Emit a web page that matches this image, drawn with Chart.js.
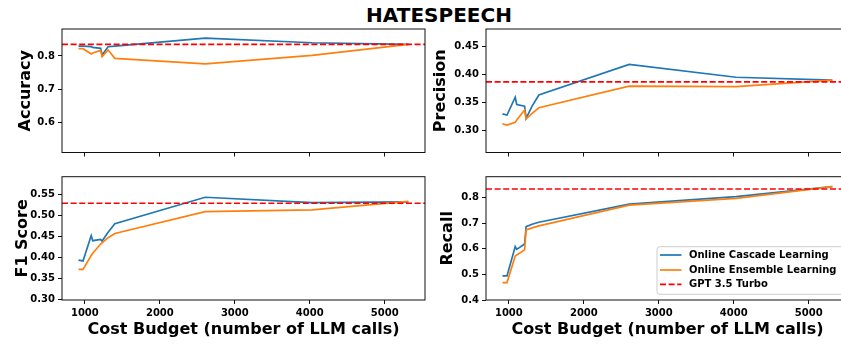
<!DOCTYPE html>
<html><head><meta charset="utf-8">
<script src="https://cdn.jsdelivr.net/npm/chart.js@4.4.0/dist/chart.umd.min.js"></script>
<style>
html,body{margin:0;padding:0;background:#fff;overflow:hidden;}
#wrap{position:relative;width:880px;height:344px;overflow:hidden;}
canvas{position:absolute;}
#title{position:absolute;left:0;width:878px;top:5px;line-height:20px;text-align:center;font-family:"DejaVu Sans";font-weight:bold;font-size:20px;color:#000;}
</style></head><body>
<div id="wrap">
<div id="title">HATESPEECH</div>
<canvas id="cAcc" width="440" height="165" style="left:0;top:0"></canvas>
<canvas id="cPrec" width="440" height="165" style="left:425px;top:0"></canvas>
<canvas id="cF1" width="440" height="179" style="left:0;top:165px"></canvas>
<canvas id="cRec" width="440" height="179" style="left:425px;top:165px"></canvas>
</div>
<script>
// ---- data ----
const budgets = [915, 975, 1085, 1105, 1210, 1230, 1310, 1400, 2605, 4030, 5315];
const seriesNames = ['Online Cascade Learning', 'Online Ensemble Learning', 'GPT 3.5 Turbo'];

const accCascade  = [0.830, 0.830, 0.828, 0.826, 0.823, 0.803, 0.828, 0.830, 0.854, 0.840, 0.835];
const accEnsemble = [0.822, 0.822, 0.806, 0.809, 0.817, 0.798, 0.818, 0.793, 0.776, 0.802, 0.835];
const accGpt = 0.835;

const precCascade  = [0.329, 0.327, 0.359, 0.346, 0.343, 0.321, 0.343, 0.363, 0.418, 0.395, 0.390];
const precEnsemble = [0.311, 0.309, 0.314, 0.318, 0.336, 0.320, 0.330, 0.340, 0.379, 0.378, 0.390];
const precGpt = 0.3867;

const f1Cascade  = [0.394, 0.392, 0.452, 0.440, 0.443, 0.439, 0.460, 0.480, 0.543, 0.530, 0.532];
const f1Ensemble = [0.372, 0.372, 0.405, 0.410, 0.432, 0.435, 0.447, 0.457, 0.509, 0.513, 0.533];
const f1Gpt = 0.5287;

const recCascade  = [0.494, 0.494, 0.609, 0.598, 0.619, 0.687, 0.696, 0.704, 0.775, 0.804, 0.843];
const recEnsemble = [0.468, 0.468, 0.572, 0.576, 0.596, 0.674, 0.682, 0.690, 0.771, 0.797, 0.843];
const recGpt = 0.834;

const xTicks = ['1000', '2000', '3000', '4000', '5000'];
const accTicks = ['0.6', '0.7', '0.8'];
const precTicks = ['0.30', '0.35', '0.40', '0.45'];
const f1Ticks = ['0.30', '0.35', '0.40', '0.45', '0.50', '0.55'];
const recTicks = ['0.4', '0.5', '0.6', '0.7', '0.8'];

const xRange = [695, 5537];
const accRange = [0.509, 0.8814];
const precRange = [0.2595, 0.4819];
const f1Range = [0.2993, 0.5917];
const recRange = [0.4, 0.882];

const xTitle = 'Cost Budget (number of LLM calls)';

// ---- styling ----
Chart.defaults.font.family = '"DejaVu Sans"';
Chart.defaults.color = '#000';
const BLUE = '#1f77b4', ORANGE = '#ff7f0e', RED = '#ff0000';
const DASH = [6, 2.6];
const LW = 1.7;

const framePlugin = {
  id: 'frame',
  afterDatasetsDraw(chart) {
    const {ctx, chartArea: a} = chart;
    ctx.save();
    ctx.strokeStyle = '#111';
    ctx.lineWidth = 1;
    ctx.strokeRect(a.left, a.top, a.right - a.left, a.bottom - a.top);
    ctx.restore();
  }
};

const boxLegend = {
  id: 'boxLegend',
  afterDraw(chart) {
    const {ctx, chartArea: a} = chart;
    const w = 187, h = 47.6;
    const x0 = a.right - 5 - w, y0 = a.bottom - 5.7 - h;
    ctx.save();
    const r = 3;
    ctx.beginPath();
    ctx.moveTo(x0 + r, y0);
    ctx.lineTo(x0 + w - r, y0); ctx.quadraticCurveTo(x0 + w, y0, x0 + w, y0 + r);
    ctx.lineTo(x0 + w, y0 + h - r); ctx.quadraticCurveTo(x0 + w, y0 + h, x0 + w - r, y0 + h);
    ctx.lineTo(x0 + r, y0 + h); ctx.quadraticCurveTo(x0, y0 + h, x0, y0 + h - r);
    ctx.lineTo(x0, y0 + r); ctx.quadraticCurveTo(x0, y0, x0 + r, y0);
    ctx.closePath();
    ctx.fillStyle = 'rgba(255,255,255,0.8)';
    ctx.fill();
    ctx.strokeStyle = '#cccccc';
    ctx.lineWidth = 1;
    ctx.stroke();
    const rows = [8.3, 23.3, 37.6];
    chart.data.datasets.forEach((ds, i) => {
      const yy = y0 + rows[i];
      ctx.beginPath();
      ctx.setLineDash(ds.borderDash || []);
      ctx.strokeStyle = ds.borderColor;
      ctx.lineWidth = LW;
      ctx.moveTo(x0 + 3, yy); ctx.lineTo(x0 + 24.5, yy);
      ctx.stroke();
      ctx.setLineDash([]);
      ctx.fillStyle = '#000';
      ctx.font = 'bold 10px "DejaVu Sans"';
      ctx.textBaseline = 'middle';
      ctx.textAlign = 'left';
      ctx.fillText(ds.label, x0 + 32, yy);
    });
    ctx.restore();
  }
};

function pts(arr) { return budgets.map((x, i) => ({x: x, y: arr[i]})); }

function makeChart(id, o) {
  const datasets = [
    {label: seriesNames[0], data: pts(o.cascade), borderColor: BLUE, borderWidth: LW, pointRadius: 0, order: 3},
    {label: seriesNames[1], data: pts(o.ensemble), borderColor: ORANGE, borderWidth: LW, pointRadius: 0, order: 2},
    {label: seriesNames[2], data: [{x: xRange[0], y: o.gpt}, {x: xRange[1], y: o.gpt}], borderColor: RED, borderWidth: LW, borderDash: DASH, pointRadius: 0, order: 1}
  ];
  const plugins = [framePlugin];
  if (o.legend) plugins.push(boxLegend);
  return new Chart(document.getElementById(id), {
    type: 'line',
    data: {datasets},
    plugins,
    options: {
      responsive: false,
      animation: false,
      events: [],
      layout: {padding: {top: o.padTop, right: o.padRight, left: 0, bottom: 0}},
      plugins: {legend: {display: false}, tooltip: {enabled: false}},
      scales: {
        x: {
          type: 'linear', min: xRange[0], max: xRange[1],
          afterBuildTicks: s => { s.ticks = xTicks.map(v => ({value: parseFloat(v)})); },
          afterFit: s => { s.height = o.xH; },
          ticks: {display: o.showX, callback: (v, i) => xTicks[i], font: {size: 10, weight: 'bold'}, color: '#000', padding: 3, maxRotation: 0, autoSkip: false},
          grid: {display: true, drawOnChartArea: false, drawTicks: true, tickLength: 4, tickColor: '#111', tickWidth: 1},
          border: {display: false},
          title: {display: o.showX, text: xTitle, font: {size: 16, weight: 'bold'}, color: '#000', padding: {top: 0, bottom: 4.9}}
        },
        y: {
          type: 'linear', min: o.yRange[0], max: o.yRange[1],
          afterBuildTicks: s => { s.ticks = o.yTicks.map(v => ({value: parseFloat(v)})); },
          afterFit: s => { s.width = o.yW; },
          ticks: {callback: (v, i) => o.yTicks[i], font: {size: 10, weight: 'bold'}, color: '#000', padding: 3, autoSkip: false},
          grid: {display: true, drawOnChartArea: false, drawTicks: true, tickLength: 4, tickColor: '#111', tickWidth: 1},
          border: {display: false},
          title: {display: true, text: o.yTitle, font: {size: 16, weight: 'bold'}, color: '#000', padding: {top: o.yTitlePad, bottom: 0}}
        }
      }
    }
  });
}

makeChart('cAcc', {cascade: accCascade, ensemble: accEnsemble, gpt: accGpt, yRange: accRange, yTicks: accTicks,
  yTitle: 'Accuracy', yTitlePad: 16, yW: 62, padTop: 29, padRight: 15, xH: 12.5, showX: false});
makeChart('cPrec', {cascade: precCascade, ensemble: precEnsemble, gpt: precGpt, yRange: precRange, yTicks: precTicks,
  yTitle: 'Precision', yTitlePad: 6.2, yW: 61, padTop: 29, padRight: 16, xH: 12.5, showX: false});
makeChart('cF1', {cascade: f1Cascade, ensemble: f1Ensemble, gpt: f1Gpt, yRange: f1Range, yTicks: f1Ticks,
  yTitle: 'F1 Score', yTitlePad: 12.9, yW: 62, padTop: 11.7, padRight: 15, xH: 44, showX: true});
makeChart('cRec', {cascade: recCascade, ensemble: recEnsemble, gpt: recGpt, yRange: recRange, yTicks: recTicks,
  yTitle: 'Recall', yTitlePad: 13.2, yW: 61, padTop: 11.7, padRight: 16, xH: 44, showX: true, legend: true});
</script>
</body></html>
